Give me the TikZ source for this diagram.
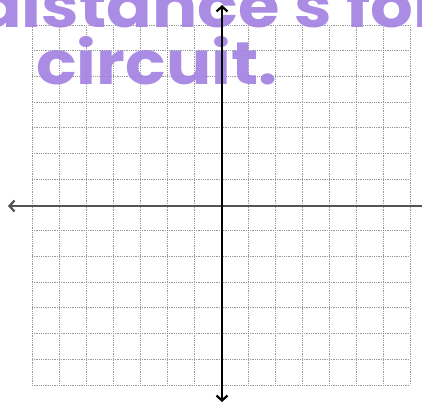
\documentclass[tikz,border=0pt]{standalone}
\usepackage{fontspec}
\newfontfamily\feutre{Poppins}[FakeStretch=1.12]
\usetikzlibrary{arrows.meta}
\definecolor{feutre}{RGB}{164,130,226}

\begin{document}
\begin{tikzpicture}[x=1pt,y=-1pt,
    grille/.style={gray!80,densely dotted,line width=0.8pt},
    axe/.style={line width=2.2pt,{Straight Barb[length=5pt,width=11pt]}-{Straight Barb[length=5pt,width=11pt]}},
    ecrit/.style={text=feutre,text opacity=0.92,anchor=base west,inner sep=0pt,font=\feutre\bfseries\fontsize{60}{60}\selectfont}]
    \useasboundingbox (0,0) rectangle (422,405);
    \clip (0,0) rectangle (422,405);

    % Grille
    \foreach \i in {0,...,14}
        \draw[grille] ({32+27*\i},25) -- ({32+27*\i},385);
    \foreach \j in {0,...,14}
        \draw[grille] (32,{25+25.714*\j}) -- (410,{25+25.714*\j});

    % Texte
    \node[ecrit] (ligne1) at (-24,27) {distance's for};
    \node[ecrit] (ligne2) at (36,84) {circuit.};

    % Axes
    \coordinate (G) at (8,206);
    \coordinate (D) at (430,206);
    \coordinate (H) at (222,5);
    \coordinate (B) at (222,402);
    \draw[axe,gray!65!black] (G) -- (D);
    \draw[axe,black] (H) -- (B);
\end{tikzpicture}
\end{document}
